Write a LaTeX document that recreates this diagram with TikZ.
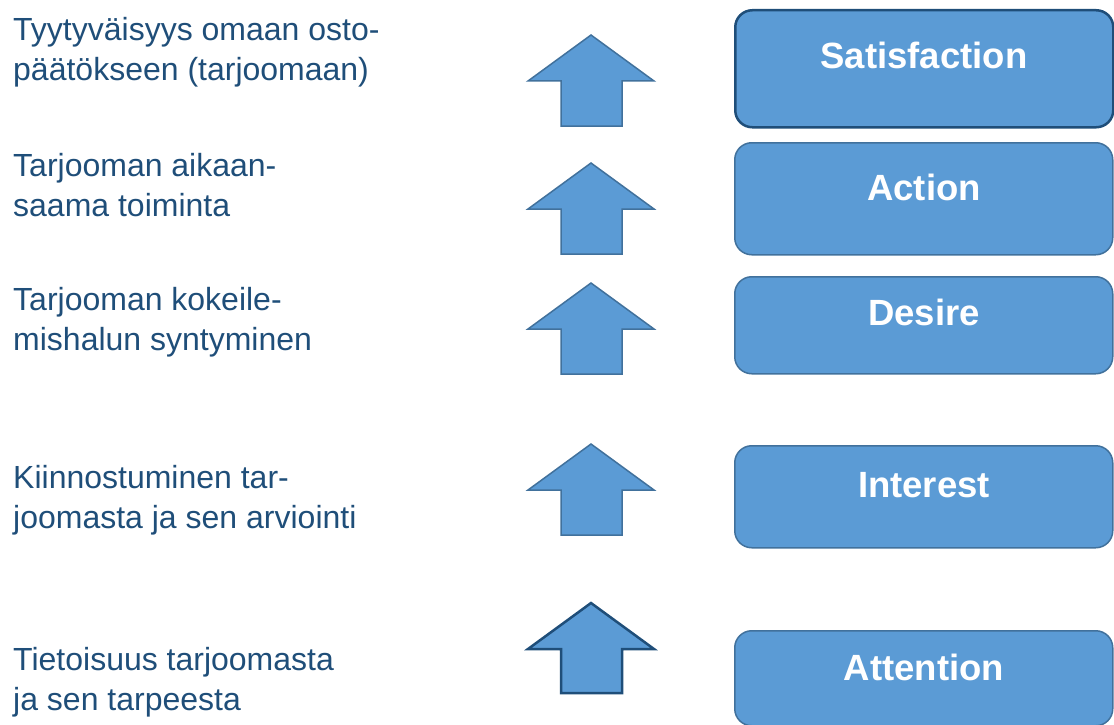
\documentclass[tikz,border=0pt]{standalone}
\usepackage{fontspec}
\setmainfont{Liberation Sans}
\definecolor{boxfill}{HTML}{5B9BD5}
\definecolor{boxline}{HTML}{41719C}
\definecolor{darkline}{HTML}{1F4E79}
\definecolor{labelcol}{HTML}{1F4E79}
\begin{document}
\begin{tikzpicture}[x=1pt,y=-1pt,
  stage/.style={draw=boxline, fill=boxfill, line width=1.5pt, rounded corners=17pt,
    inner sep=0, anchor=north west},
  stagedark/.style={stage, draw=darkline, line width=2.5pt},
  stagetext/.style={text=white, font=\fontsize{36.5}{42}\selectfont\bfseries, inner sep=0, anchor=base},
  leftlabel/.style={text=labelcol, font=\fontsize{32}{40}\selectfont, align=left, inner sep=0, anchor=base west},
  uparrow/.style={draw=boxline, fill=boxfill, line width=1.5pt, line join=miter},
  uparrowdark/.style={uparrow, draw=darkline, line width=2.5pt}
]
\useasboundingbox (0,0) rectangle (1114,725);

% stage boxes
\node[stagedark, minimum width=378pt, minimum height=117pt] (sat) at (734,9) {};
\node[stage, minimum width=378pt, minimum height=112pt] (act) at (734,142) {};
\node[stage, minimum width=378pt, minimum height=97pt]  (des) at (734,276) {};
\node[stage, minimum width=378pt, minimum height=102pt] (int) at (734,445) {};
\node[stage, minimum width=378pt, minimum height=95pt]  (att) at (734,630) {};

\node[stagetext] (sattext) at (924,69)  {Satisfaction};
\node[stagetext] (acttext) at (924,200) {Action};
\node[stagetext] (destext) at (924,325) {Desire};
\node[stagetext] (inttext) at (924,497) {Interest};
\node[stagetext] (atttext) at (924,680) {Attention};

% up arrows
\foreach \t in {35,163,283,444}{
  \draw[uparrow] (591,\t) -- (654,\t+46) -- (622,\t+46) -- (622,\t+91)
    -- (561,\t+91) -- (561,\t+46) -- (528,\t+46) -- cycle;
}
\draw[uparrowdark] (591,603) -- (654,649) -- (622,649) -- (622,693)
    -- (561,693) -- (561,649) -- (528,649) -- cycle;

% left labels (anchor = baseline of the last line)
\node[leftlabel] (l1) at (13,81)  {Tyytyväisyys omaan osto-\\päätökseen (tarjoomaan)};
\node[leftlabel] (l2) at (13,216) {Tarjooman aikaan-\\saama toiminta};
\node[leftlabel] (l3) at (13,350) {Tarjooman kokeile-\\mishalun syntyminen};
\node[leftlabel] (l4) at (13,528) {Kiinnostuminen tar-\\joomasta ja sen arviointi};
\node[leftlabel] (l5) at (13,710) {Tietoisuus tarjoomasta\\ja sen tarpeesta};
\end{tikzpicture}
\end{document}
